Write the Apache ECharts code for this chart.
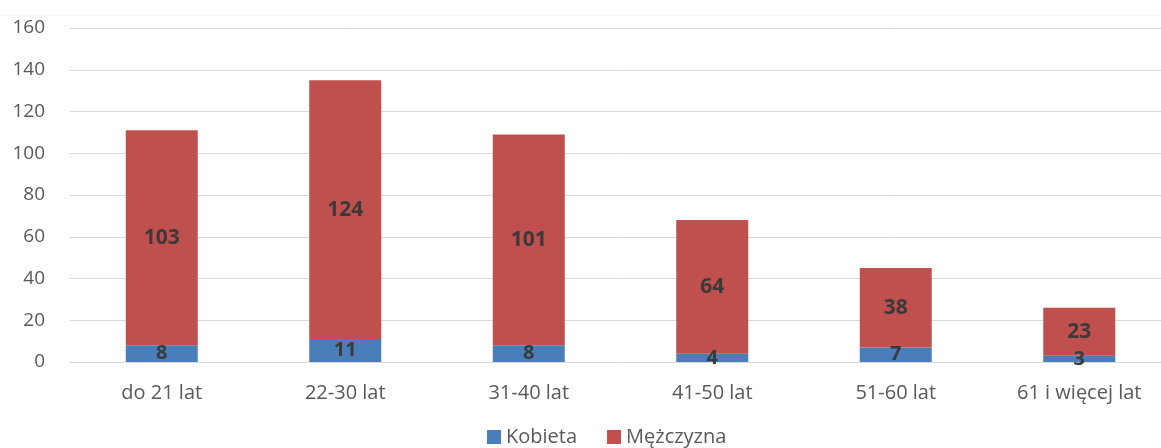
<!DOCTYPE html>
<html>
<head>
<meta charset="utf-8">
<script src="https://cdn.jsdelivr.net/npm/echarts@6/dist/echarts.min.js"></script>
<style>html,body{margin:0;padding:0;background:#fff;overflow:hidden}#c{width:1171px;height:448px}</style>
</head>
<body>
<div id="c"></div>
<script>
var categories = ['do 21 lat', '22-30 lat', '31-40 lat', '41-50 lat', '51-60 lat', '61 i więcej lat'];
var kobieta = [8, 11, 8, 4, 7, 3];
var mezczyzna = [103, 124, 101, 64, 38, 23];
var seriesNames = ['Kobieta', 'Mężczyzna'];

var chart = echarts.init(document.getElementById('c'));
chart.setOption({
  animation: false,
  textStyle: {fontFamily: 'Open Sans, Noto Sans, sans-serif'},
  grid: {left: 70, right: 0, top: 28, bottom: 86, containLabel: false},
  legend: {
    top: 421, left: 482, itemWidth: 14, itemHeight: 14, itemGap: 30, icon: 'rect',
    textStyle: {color: '#595959', fontSize: 20, lineHeight: 22, fontFamily: 'Open Sans, sans-serif'},
    data: seriesNames
  },
  graphic: [{type: 'line', shape: {x1: 0, y1: 15, x2: 1171, y2: 15}, style: {stroke: '#eeeeee', lineWidth: 1}}],
  xAxis: {
    type: 'category', data: categories,
    axisLine: {show: false}, axisTick: {show: false},
    axisLabel: {color: '#595959', fontSize: 20, margin: 21, interval: 0}
  },
  yAxis: {
    type: 'value', min: 0, max: 160, interval: 20,
    axisLine: {show: false}, axisTick: {show: false},
    axisLabel: {color: '#595959', fontSize: 19, margin: 25},
    splitLine: {lineStyle: {color: '#d9d9d9', width: 1}}
  },
  series: [
    {name: seriesNames[0], type: 'bar', stack: 's', barWidth: 72, data: kobieta,
     itemStyle: {color: '#4a7ebb'},
     label: {show: true, position: 'inside', color: '#3a3a3a', fontSize: 20, fontWeight: 'bold'}},
    {name: seriesNames[1], type: 'bar', stack: 's', barWidth: 72, data: mezczyzna,
     itemStyle: {color: '#c0504d'},
     label: {show: true, position: 'inside', color: '#3a3a3a', fontSize: 21, fontWeight: 'bold'}}
  ]
});
</script>
</body>
</html>
